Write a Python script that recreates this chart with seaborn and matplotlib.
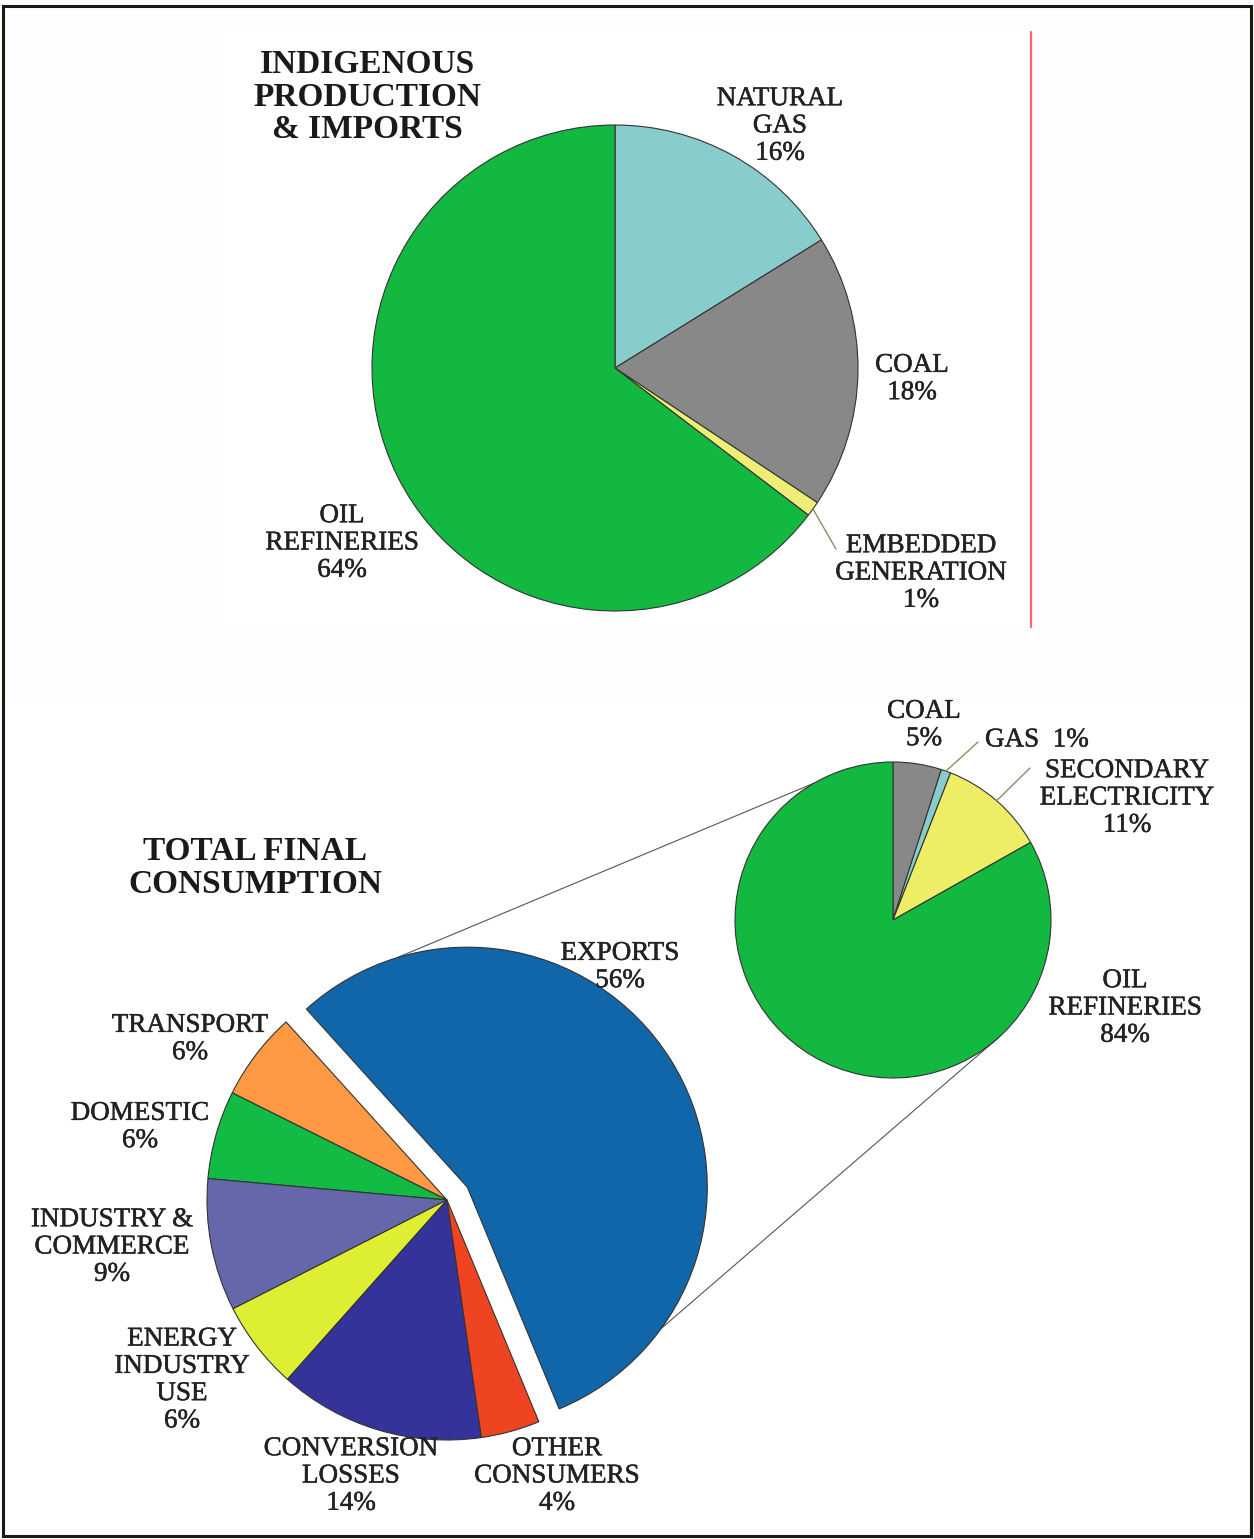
import numpy as np
import matplotlib
matplotlib.use("Agg")
import matplotlib.pyplot as plt
import matplotlib.patches as mpatches
import matplotlib.patheffects as pe
import seaborn as sns

W, H = 1254, 1539

# Indigenous production & imports
supply_labels = ["NATURAL\nGAS", "COAL", "EMBEDDED\nGENERATION", "OIL\nREFINERIES"]
supply_pct = [16, 18, 1, 64]
supply_colors = ["#88cccc", "#888888", "#eeee77", "#12b840"]

# Total final consumption
use_labels = ["EXPORTS", "TRANSPORT", "DOMESTIC", "INDUSTRY &\nCOMMERCE",
              "ENERGY\nINDUSTRY\nUSE", "CONVERSION\nLOSSES", "OTHER\nCONSUMERS"]
use_pct = [56, 6, 6, 9, 6, 14, 4]
use_colors = ["#1166aa", "#ff9944", "#11bb44", "#6666aa", "#ddee33", "#333399", "#ee4422"]

# Breakdown of exports
exp_labels = ["COAL", "GAS", "SECONDARY\nELECTRICITY", "OIL\nREFINERIES"]
exp_pct = [5, 1, 11, 84]
exp_colors = ["#888888", "#88cccc", "#eeee66", "#12b840"]

sns.set_theme(style="white")
plt.rcParams['font.family'] = ['Liberation Serif', 'DejaVu Serif']


def Y(y):
    # picture rows run downwards, data y runs upwards
    return H - y


def rim(w, ang=None, frac=1.0):
    if ang is None:
        ang = (w.theta1 + w.theta2) / 2
    t = np.deg2rad(ang)
    cx, cy = w.center
    return cx + frac * w.r * np.cos(t), cy + frac * w.r * np.sin(t)


fig = plt.figure(figsize=(W / 100, H / 100), dpi=100, facecolor="#fcfdff")
ax = fig.add_axes([0, 0, 1, 1])

# panel backgrounds, frame and red rule
ax.add_patch(mpatches.Rectangle((220, Y(627)), 810, 595, facecolor="white", edgecolor="none", zorder=0))
ax.add_patch(mpatches.Rectangle((6, Y(1532)), 1242, 832, facecolor="white", edgecolor="none", zorder=0))
ax.plot([1031, 1031], [Y(32), Y(627)], color="#ff6666", lw=1.6, zorder=1)
ax.add_patch(mpatches.Rectangle((3, Y(1536)), 1248, 1530, facecolor="none", edgecolor="#1a1a10", lw=2.2, zorder=5))

wedge_kw = dict(edgecolor="#333333", linewidth=0.8)
heavy = [pe.withStroke(linewidth=0.35, foreground="#222222")]
txt_kw = dict(ha="center", va="center", fontsize=19.5, color="#222222", linespacing=1.12,
              path_effects=heavy)
title_kw = dict(ha="center", va="center", fontsize=24, fontweight="bold", color="#1a1a1a",
                linespacing=1.08)

# ---- top pie
w_sup, _ = ax.pie(supply_pct, colors=supply_colors, startangle=90, counterclock=False,
                  center=(615, Y(368)), radius=243, wedgeprops=wedge_kw)

ax.text(367, Y(97), "INDIGENOUS\nPRODUCTION\n& IMPORTS", **title_kw)
sup_pos = [(780, 126), (912, 379), (921, 573), (342, 543)]
for lab, p, (x, y) in zip(supply_labels, supply_pct, sup_pos):
    ax.text(x, Y(y), f"{lab}\n{p}%", **txt_kw)
x0, y0 = rim(w_sup[2])
ax.plot([x0, 836], [y0, Y(549)], color="#998866", lw=1.0)

# ---- bottom main pie, exports pulled out
shift = 24
explode = [shift] + [0] * (len(use_pct) - 1)
w_use, _ = ax.pie(use_pct, colors=use_colors, startangle=-67.5, counterclock=True,
                  explode=explode, center=(447, Y(1200)), radius=240, wedgeprops=wedge_kw)

ax.text(255, Y(868), "TOTAL FINAL\nCONSUMPTION", **title_kw)
use_pos = [(620, 967), (190, 1039), (140, 1127), (112, 1247), (182, 1380), (351, 1476), (557, 1476)]
for lab, p, (x, y) in zip(use_labels, use_pct, use_pos):
    ax.text(x, Y(y), f"{lab}\n{p}%", **txt_kw)

# ---- exports breakdown pie
w_exp, _ = ax.pie(exp_pct, colors=exp_colors, startangle=90, counterclock=False,
                  center=(893, Y(920)), radius=158, wedgeprops=wedge_kw)

exp_pos = [(924, 725), None, (1127, 798), (1125, 1008)]
for lab, p, pos in zip(exp_labels, exp_pct, exp_pos):
    if pos is None:
        continue
    ax.text(pos[0], Y(pos[1]), f"{lab}\n{p}%", **txt_kw)
ax.text(985, Y(740), f"{exp_labels[1]}  {exp_pct[1]}%", **{**txt_kw, "ha": "left"})
for w, end in [(w_exp[1], (978, 742)), (w_exp[2], (1030, 768))]:
    x0, y0 = rim(w)
    ax.plot([x0, end[0]], [y0, Y(end[1])], color="#998866", lw=1.0)

# zoom lines from exports wedge to breakdown pie
for a_from, a_to in [(107, 120), (-36, -48)]:
    p0 = rim(w_use[0], a_from)
    p1 = rim(w_exp[0], a_to)
    ax.plot([p0[0], p1[0]], [p0[1], p1[1]], color="#555555", lw=0.8, zorder=0.5)

ax.set_xlim(0, W)
ax.set_ylim(0, H)
ax.set_aspect("equal")
ax.axis("off")

fig.savefig("out.png", dpi=100, facecolor=fig.get_facecolor())
